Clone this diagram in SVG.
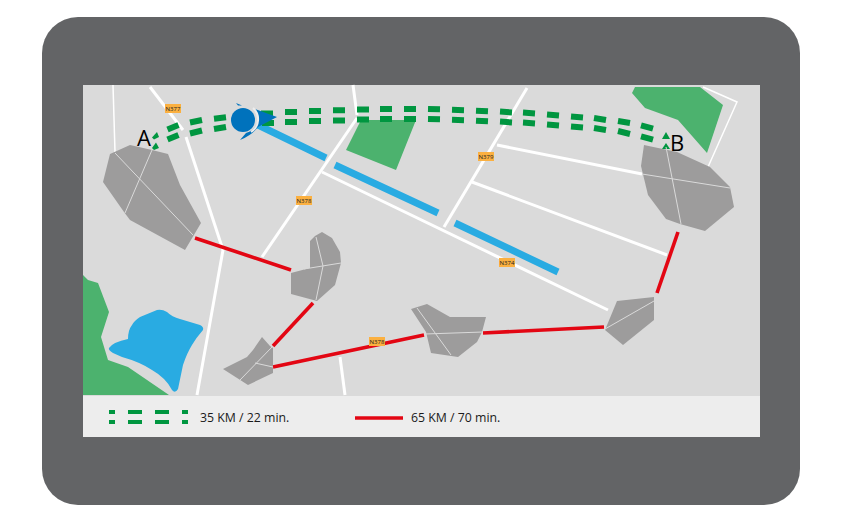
<svg xmlns="http://www.w3.org/2000/svg" width="842" height="528" viewBox="0 0 842 528">
<style>
.road{fill:none;stroke:#fff;stroke-width:3}
.thin{fill:none;stroke:#fff;stroke-width:1.5}
.park{fill:#4cb26e}
.water{fill:#29abe2}
.blob{fill:#9d9c9c}
.seam{fill:none;stroke:#dadada;stroke-width:1}
.red{fill:none;stroke:#e30613;stroke-width:3.6}
.blue{fill:none;stroke:#29abe2;stroke-width:7}
.dash{fill:none;stroke:#009640;stroke-width:6}
.head{fill:#009640}
.tag{fill:#fbb040}
.tagt{font-family:"Open Sans",sans-serif;font-size:6px;fill:#222;text-anchor:middle}
.lbl{font-family:"Open Sans",sans-serif;font-size:22px;fill:#000}
.leg{font-family:"Open Sans",sans-serif;font-size:12.3px;fill:#1a1a1a}
</style>
<rect x="0" y="0" width="842" height="528" fill="#fff"/>
<rect x="42" y="17" width="758" height="488" rx="36" fill="#636466"/>
<rect x="83" y="85" width="677" height="311" fill="#dadada"/>
<rect x="83" y="396" width="677" height="41" fill="#ededed"/>
<g id="map">
<polygon class="park" points="635,87 632,93 645,108 678,120 707,153 723,105 700,87"/>
<polygon class="park" points="361,120 416,120 396,170 346,150"/>
<polygon class="park" points="83,275 88,280 98,283 109,312 101,337 108,360 128,367 169,395 83,395"/>
<path class="water" d="M109,348 Q113,342 128,339 Q128,330 132,325 Q134,321 140,317 L157,310 Q162,309 167,312 Q172,317 180,319 L200,325 Q204,327 203,330 Q196,338 192,345 Q187,353 183,365 L178,389 Q175,394 172,390 Q166,378 152,370 Q140,362 122,357 L113,353 Q108,350 109,348 Z"/>
<path class="thin" d="M113,85 L115,152"/>
<path class="road" d="M150,87 L183,130 M186,137 L223,250 L197,395" style="stroke-linejoin:round"/>
<path class="road" d="M353,85 L357,115 M357,118 L262,257"/>
<path class="road" d="M322,172 L608,310"/>
<path class="road" d="M527,88 L444,227"/>
<path class="road" d="M497,145 L642,174"/>
<path class="road" d="M472,182 L667,255"/>
<path class="road" d="M340,357 L345,395"/>
<path class="thin" d="M703,87 L737,102 L708,167"/>
<path class="blue" d="M258,125 L326,158 M335,165 L438,213 M455,223 L558,272"/>
<g id="tag-n377"><rect class="tag" x="165" y="104" width="16" height="9"/><text class="tagt" x="173" y="110.700">N377</text></g>
<g id="tag-n378a"><rect class="tag" x="296" y="196" width="16" height="9"/><text class="tagt" x="304" y="202.700">N378</text></g>
<g id="tag-n379"><rect class="tag" x="478" y="152" width="16" height="9"/><text class="tagt" x="486" y="158.700">N379</text></g>
<g id="tag-n374"><rect class="tag" x="499" y="258" width="16" height="9"/><text class="tagt" x="507" y="264.700">N374</text></g>
</g>
<g id="connectors">
<path class="red" d="M195,238 L291,270"/>
<path class="red" d="M313,303 L273,346"/>
<path class="red" d="M273,367 L424,335"/>
<path class="red" d="M483,333 L604,327"/>
<path class="red" d="M657,293 L678,232"/>
<path class="dash" d="M167.500,129.500 L178.500,125 M190,122.500 L202,120 M214,118.700 L226,117.300 M261,113.500 L273,113.500 M285,112 L297,112 M309,111 L321,111 M333,110.300 L345,110.300 M357,109.500 L369,109.500 M380,109 L392,109 M404,109 L416,109 M428,109 L440,109.300 M452,109.800 L464,110.200 M476,110.700 L488,111.300 M500,111.600 L512,112.400 M523,112.600 L535,113.400 M547,114.500 L559,115.500 M571,116.500 L583,117.500 M594,118 L606,120 M618,121 L630,123 M641,125.300 L653,128.700"/>
<path class="dash" d="M167.500,139.500 L178.500,135 M190,133.500 L202,130.500 M214,129 L226,127 M262,123 L274,123 M285,122 L297,122 M309,121 L321,121 M333,120.500 L345,120.500 M357,119.500 L369,119.500 M380,119 L392,119 M404,119 L416,119 M428,119 L440,119.300 M452,119.800 L464,120.200 M476,120.700 L488,121.300 M500,121.600 L512,122.400 M523,122.600 L535,123.400 M547,124.500 L559,125.500 M571,126.500 L583,127.500 M594,128 L606,130 M618,131 L630,134 M641,136.300 L653,139.700"/>
<polygon class="head" points="152,137.500 157,132 159,137 154,139.500"/>
<polygon class="head" points="152,148 156,142.500 159,148 154,150"/>
<polygon class="head" points="662,139 666,132 670,139"/>
<polygon class="head" points="662,149 666,143 670,149"/>
</g>
<g id="node-a">
<polygon class="blob" points="130,145 152,150 168,154 180,185 201,223 185,250 130,220 124,212 103,182 110,154"/>
<path class="seam" d="M115,153 L193,235 M152,150 L125,213"/>
<text class="lbl" x="137" y="146">A</text>
</g>
<g id="node-b">
<polygon class="blob" points="644,145 677,152 710,167 730,187 734,207 705,231 680,224 666,219 648,195 641,166"/>
<path class="seam" d="M642,174 L730,188 M666,147 L681,224"/>
<text class="lbl" x="670" y="151">B</text>
</g>
<g id="node-c">
<polygon class="blob" points="322,232 332,238 340,252 341,263 335,285 317,301 291,294 291,273 310,268 310,241 315,236"/>
<path class="seam" d="M316,237 L323,266 L316,300 M304,269 L341,263"/>
</g>
<g id="node-d">
<polygon class="blob" points="262,337 270,346 273,348 273,373 248,385 223,369 247,357 253,350"/>
<path class="seam" d="M272,347 L240,380 M255,363 L273,367"/>
</g>
<g id="node-e">
<polygon class="blob" points="411,309 427,304 450,317 486,317 482,332 477,342 458,357 431,353 426,332"/>
<path class="seam" d="M417,308 L451,355 M425,334 L483,332"/>
</g>
<g id="node-f">
<polygon class="blob" points="617,301 654,297 654,320 623,345 605,330"/>
<path class="seam" d="M605,329 L654,301"/>
</g>
<g id="tag-n378b"><rect class="tag" x="369" y="337" width="16" height="9"/><text class="tagt" x="377" y="343.700">N378</text></g>
<g id="position">
<path d="M255,109 L277,117 L258,127 Q252,135 240,140 L246,133 Q256,130 258,120 Q258,113 255,109 Z" fill="#0072bc"/>
<path d="M236,103 L242,105.500 L238,105.500 Z" fill="#0072bc"/>
<path d="M253,108 A15,15 0 0 1 251,132" fill="none" stroke="#ededed" stroke-width="2"/>
<circle cx="243" cy="120" r="12" fill="#0072bc"/>
</g>
<g id="legend">
<path class="dash" style="stroke-width:4" d="M109,412 H115 M128,412 H142 M155,412 H169 M182,412 H188 M109,422 H115 M128,422 H142 M155,422 H169 M182,422 H188"/>
<text class="leg" x="200" y="422">35 KM / 22 min.</text>
<path class="red" d="M355,418 H403"/>
<text class="leg" x="411" y="422">65 KM / 70 min.</text>
</g>
</svg>
